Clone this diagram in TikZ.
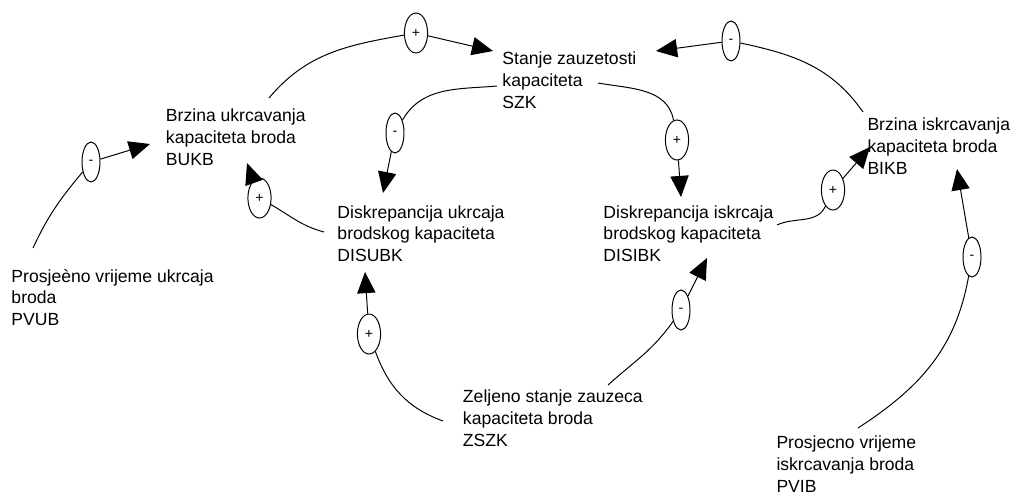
\documentclass[tikz,border=0pt]{standalone}
\usepackage{fontspec}
\setmainfont{Liberation Sans}
\usetikzlibrary{arrows.meta,shapes.geometric}
\begin{document}
\begin{tikzpicture}[x=0.025cm, y=-0.025cm, line width=0.7pt,
	var/.style = {anchor=base west, align=left, inner sep=0pt, font=\fontsize{12.5}{15.3}\selectfont},
	sgn/.style = {draw, ellipse, inner sep=0pt, minimum height=1cm, font=\fontsize{10}{12}\selectfont},
	sgnp/.style = {sgn, minimum width=0.58cm},
	sgnm/.style = {sgn, minimum width=0.45cm},
	link/.style = {-{Triangle[length=15pt, width=13pt]}}]
	\useasboundingbox (0,0) rectangle (1013,494);

		\node[var] (BUKB) at (165.5,165) {Brzina ukrcavanja\\kapaciteta broda\\BUKB};
		\node[var] (SZK) at (502,108) {Stanje zauzetosti\\kapaciteta\\SZK};
		\node[var] (BIKB) at (867,174) {Brzina iskrcavanja\\kapaciteta broda\\BIKB};
		\node[var] (DISUBK) at (337,261.5) {Diskrepancija ukrcaja\\brodskog kapaciteta\\DISUBK};
		\node[var] (DISIBK) at (603,261.5) {Diskrepancija iskrcaja\\brodskog kapaciteta\\DISIBK};
		\node[var] (PVUB) at (11,325.5) {Prosjeèno vrijeme ukrcaja\\broda\\PVUB};
		\node[var] (ZSZK) at (462.5,446) {Zeljeno stanje zauzeca\\kapaciteta broda\\ZSZK};
		\node[var] (PVIB) at (776,492) {Prosjecno vrijeme\\iskrcavanja broda\\PVIB};

		\node[sgnp] (s1) at (416,33) {+};
		\node[sgnm] (s2) at (731,41) {-};
		\node[sgnm] (s3) at (395,133) {-};
		\node[sgnp] (s4) at (677,140) {+};
		\node[sgnp] (s5) at (833,190) {+};
		\node[sgnp] (s6) at (259.5,198) {+};
		\node[sgnm] (s7) at (91,162) {-};
		\node[sgnp] (s8) at (369,334) {+};
		\node[sgnm] (s9) at (681,310) {-};
		\node[sgnm] (s10) at (972,257) {-};

		\coordinate (a1) at (269,98);
		\coordinate (a2) at (863,112);
		\coordinate (a3) at (497,86);
		\coordinate (a4) at (598,83);
		\coordinate (a5) at (777,225);
		\coordinate (a6) at (324,232);
		\coordinate (a7) at (33,248);
		\coordinate (a8) at (443,421);
		\coordinate (a9) at (608,385);
		\coordinate (a10) at (858,428);

		\coordinate (t1) at (493,51);
		\coordinate (t2) at (656,51);
		\coordinate (t3) at (383,193);
		\coordinate (t4) at (681,197);
		\coordinate (t5) at (870,147);
		\coordinate (t6) at (247,163);
		\coordinate (t7) at (150,144);
		\coordinate (t8) at (365,272);
		\coordinate (t9) at (707,258);
		\coordinate (t10) at (957,169);

		\draw (a1) to[out=50, in=190] (s1);
		\draw[link] (s1) -- (t1);
		\draw (a2) to[out=125, in=-12] (s2);
		\draw[link] (s2) -- (t2);
		\draw (a3) to[out=185, in=60] (s3);
		\draw[link] (s3) -- (t3);
		\draw (a4) to[out=-10, in=100] (s4);
		\draw[link] (s4) -- (t4);
		\draw (a5) to[out=25, in=-115] (s5);
		\draw[link] (s5) -- (t5);
		\draw (a6) to[out=165, in=-30] (s6);
		\draw[link] (s6) -- (t6);
		\draw (a7) to[out=65, in=-130] (s7);
		\draw[link] (s7) -- (t7);
		\draw (a8) to[out=160, in=-70] (s8);
		\draw[link] (s8) -- (t8);
		\draw (a9) to[out=42, in=-125] (s9);
		\draw[link] (s9) -- (t9);
		\draw (a10) to[out=33, in=-100] (s10);
		\draw[link] (s10) -- (t10);
	\end{tikzpicture}
\end{document}
